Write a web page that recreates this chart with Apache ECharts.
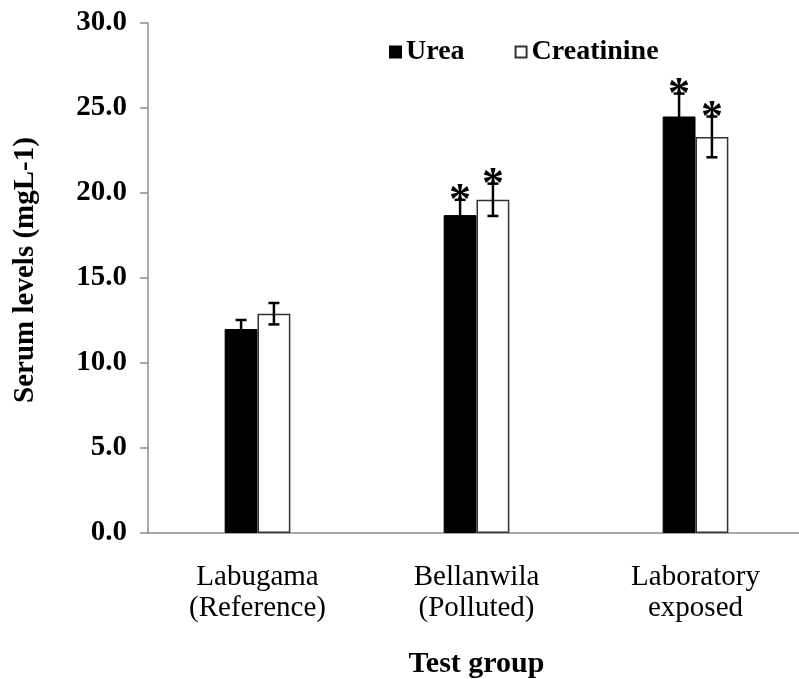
<!DOCTYPE html>
<html>
<head>
<meta charset="utf-8">
<script src="https://cdn.jsdelivr.net/npm/echarts@6/dist/echarts.min.js"></script>
<style>html,body{margin:0;padding:0;background:#fff}#c{width:799px;height:679px}</style>
</head>
<body>
<div id="c"></div>
<script>
const categories = ['Labugama\n(Reference)', 'Bellanwila\n(Polluted)', 'Laboratory\nexposed'];
const ureaValues = [12.0, 18.7, 24.5];
const ureaErrors = [0.53, 0.9, 1.35];
const ureaSignificant = [false, true, true];
const creatinineValues = [12.9, 19.6, 23.3];
const creatinineErrors = [0.63, 0.95, 1.2];
const creatinineSignificant = [false, true, true];
const yTicks = { min: 0, max: 30, interval: 5 };

const FONT = '"Liberation Serif", "Times New Roman", serif';
const chart = echarts.init(document.getElementById('c'), null, { renderer: 'canvas' });

function errSeries(name, values, errors, sig, offsetFrac) {
  return {
    name: name,
    type: 'custom',
    z: 5,
    silent: true,
    data: values.map((v, i) => [i, v, errors[i], sig[i] ? 1 : 0]),
    renderItem: function (params, api) {
      const i = api.value(0), v = api.value(1), e = api.value(2), s = api.value(3);
      const band = api.size([1, 0])[0];
      const c = api.coord([i, v]);
      const x = c[0] + offsetFrac * band;
      const yTop = api.coord([i, v + e])[1];
      const yBot = api.coord([i, v - e])[1];
      const cap = 5.5;
      const st = { stroke: '#000', lineWidth: 2.5 };
      const children = [
        { type: 'line', shape: { x1: x, y1: yTop, x2: x, y2: yBot }, style: st },
        { type: 'line', shape: { x1: x - cap, y1: yTop, x2: x + cap, y2: yTop }, style: st },
        { type: 'line', shape: { x1: x - cap, y1: yBot, x2: x + cap, y2: yBot }, style: st }
      ];
      if (s) {
        children.push({
          type: 'text',
          style: { text: '*', x: x, y: yTop + 2, align: 'center', verticalAlign: 'middle',
                   font: 'bold 44px ' + FONT, fill: '#000' }
        });
      }
      return { type: 'group', children: children };
    }
  };
}

chart.setOption({
  animation: false,
  backgroundColor: '#fff',
  grid: { left: 148, right: -6, top: 23, bottom: 146, outerBoundsMode: 'none', containLabel: false },
  legend: {
    data: ['Urea', 'Creatinine'],
    left: 384, top: 33,
    itemWidth: 11, itemHeight: 11, itemGap: 50,
    icon: 'rect',
    textStyle: { fontFamily: FONT, fontWeight: 'bold', fontSize: 28, color: '#000' }
  },
  xAxis: {
    type: 'category',
    data: categories,
    name: 'Test group',
    nameLocation: 'middle',
    nameGap: 116,
    nameTextStyle: { fontFamily: FONT, fontWeight: 'bold', fontSize: 30, color: '#000' },
    axisLine: { lineStyle: { color: '#8c8c8c', width: 1.5 } },
    axisTick: { length: 9, lineStyle: { color: '#8c8c8c', width: 1.5 } },
    axisLabel: { margin: 29, fontFamily: FONT, fontSize: 29, lineHeight: 31, color: '#000' }
  },
  yAxis: {
    type: 'value',
    min: yTicks.min, max: yTicks.max, interval: yTicks.interval,
    name: 'Serum levels (mgL-1)',
    nameLocation: 'middle',
    nameGap: 108,
    nameRotate: 90,
    nameTextStyle: { fontFamily: FONT, fontWeight: 'bold', fontSize: 29, color: '#000', padding: [0, 0, 0, 16] },
    axisLine: { show: true, lineStyle: { color: '#8c8c8c', width: 1.5 } },
    axisTick: { show: true, length: 8, lineStyle: { color: '#8c8c8c', width: 1.5 } },
    splitLine: { show: false },
    axisLabel: { margin: 21, fontFamily: FONT, fontWeight: 'bold', fontSize: 29, color: '#000',
                 formatter: v => v.toFixed(1) }
  },
  series: [
    { name: 'Urea', type: 'bar', data: ureaValues, barWidth: '15%', barGap: '0%',
      itemStyle: { color: '#000', borderColor: '#000', borderWidth: 1 } },
    { name: 'Creatinine', type: 'bar', data: creatinineValues, barWidth: '15%', barGap: '0%',
      itemStyle: { color: '#fff', borderColor: '#333', borderWidth: 1.5 } },
    errSeries('Urea SEM', ureaValues, ureaErrors, ureaSignificant, -0.075),
    errSeries('Creatinine SEM', creatinineValues, creatinineErrors, creatinineSignificant, 0.075)
  ]
});
</script>
</body>
</html>
